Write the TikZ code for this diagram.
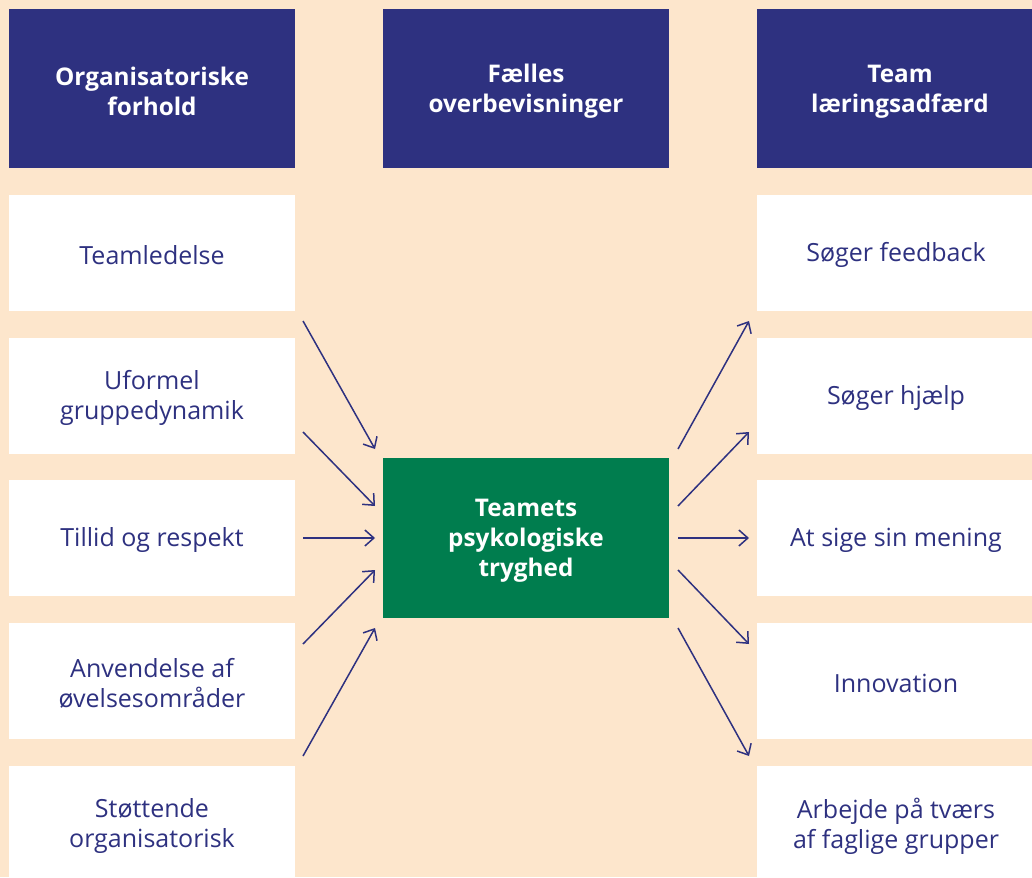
\documentclass[tikz,border=0pt]{standalone}
\usepackage{fontspec}
\setmainfont{Open Sans}
\usetikzlibrary{arrows.meta}
\definecolor{peach}{HTML}{FDE6CC}
\definecolor{navy}{HTML}{2E3180}
\definecolor{leaf}{HTML}{007D4E}
\tikzset{
  x=1pt, y=-1pt,
  box/.style={inner sep=0pt, minimum width=286pt},
  headbox/.style={box, fill=navy, minimum height=159pt},
  itembox/.style={box, fill=white, minimum height=116pt},
  corebox/.style={box, fill=leaf, minimum height=160pt},
  boldtext/.style={text=white, align=center, inner sep=0pt, yshift=-3pt,
    font=\fontsize{24.3}{30}\selectfont\bfseries},
  plaintext/.style={text=navy, align=center, inner sep=0pt, yshift=-2pt,
    font=\fontsize{25}{30}\selectfont},
  link/.style={draw=navy, line width=1.5pt, -{Straight Barb[length=9pt,width=16pt,line width=1.5pt]}},
}
\begin{document}
\begin{tikzpicture}
\fill[peach] (0,0) rectangle (1032,877);
\useasboundingbox (0,0) rectangle (1032,877);
\begin{scope}
\clip (0,0) rectangle (1032,877);
% column headers
\node[headbox] (h1) at (152,88.5) {};
\node[headbox] (h2) at (526,88.5) {};
\node[headbox] (h3) at (900,88.5) {};
\node[boldtext] (h1t) at (h1.center) {Organisatoriske\\forhold};
\node[boldtext] (h2t) at (h2.center) {Fælles\\overbevisninger};
\node[boldtext] (h3t) at (h3.center) {Team\\læringsadfærd};
% organisational conditions
\node[itembox] (l1) at (152,253) {};
\node[itembox] (l2) at (152,396) {};
\node[itembox] (l3) at (152,538) {};
\node[itembox] (l4) at (152,681) {};
\node[itembox] (l5) at (152,824) {};
\node[plaintext] (l1t) at (l1.center) {Teamledelse};
\node[plaintext] (l2t) at (l2.center) {Uformel\\gruppedynamik};
\node[plaintext] (l3t) at (l3.center) {Tillid og respekt};
\node[plaintext] (l4t) at (l4.center) {Anvendelse af\\øvelsesområder};
\node[plaintext] (l5t) at (l5.center) {Støttende\\organisatorisk};
% team learning behaviour
\node[itembox, minimum width=278pt] (r1) at (896,253) {};
\node[itembox, minimum width=278pt] (r2) at (896,396) {};
\node[itembox, minimum width=278pt] (r3) at (896,538) {};
\node[itembox, minimum width=278pt] (r4) at (896,681) {};
\node[itembox, minimum width=278pt] (r5) at (896,824) {};
\node[plaintext] (r1t) at (r1.center) {Søger feedback};
\node[plaintext] (r2t) at (r2.center) {Søger hjælp};
\node[plaintext] (r3t) at (r3.center) {At sige sin mening};
\node[plaintext] (r4t) at (r4.center) {Innovation};
\node[plaintext] (r5t) at (r5.center) {Arbejde på tværs\\af faglige grupper};
% shared belief
\node[corebox] (c) at (526,538) {};
\node[boldtext] (ct) at (c.center) {Teamets\\psykologiske\\tryghed};
\end{scope}
% arrow end points
\coordinate (la1) at (303,321); \coordinate (lb1) at (375,449);
\coordinate (la2) at (303,432); \coordinate (lb2) at (375,506);
\coordinate (la3) at (303,538); \coordinate (lb3) at (375,538);
\coordinate (la4) at (303,644); \coordinate (lb4) at (375,570);
\coordinate (la5) at (303,756); \coordinate (lb5) at (375,628);
\coordinate (ra1) at (678,449); \coordinate (rb1) at (749,321);
\coordinate (ra2) at (678,506); \coordinate (rb2) at (749,432);
\coordinate (ra3) at (678,538); \coordinate (rb3) at (749,538);
\coordinate (ra4) at (678,570); \coordinate (rb4) at (749,644);
\coordinate (ra5) at (678,628); \coordinate (rb5) at (749,756);
\foreach \i in {1,...,5}{
  \draw[link] (la\i) -- (lb\i);
  \draw[link] (ra\i) -- (rb\i);
}
\end{tikzpicture}
\end{document}
